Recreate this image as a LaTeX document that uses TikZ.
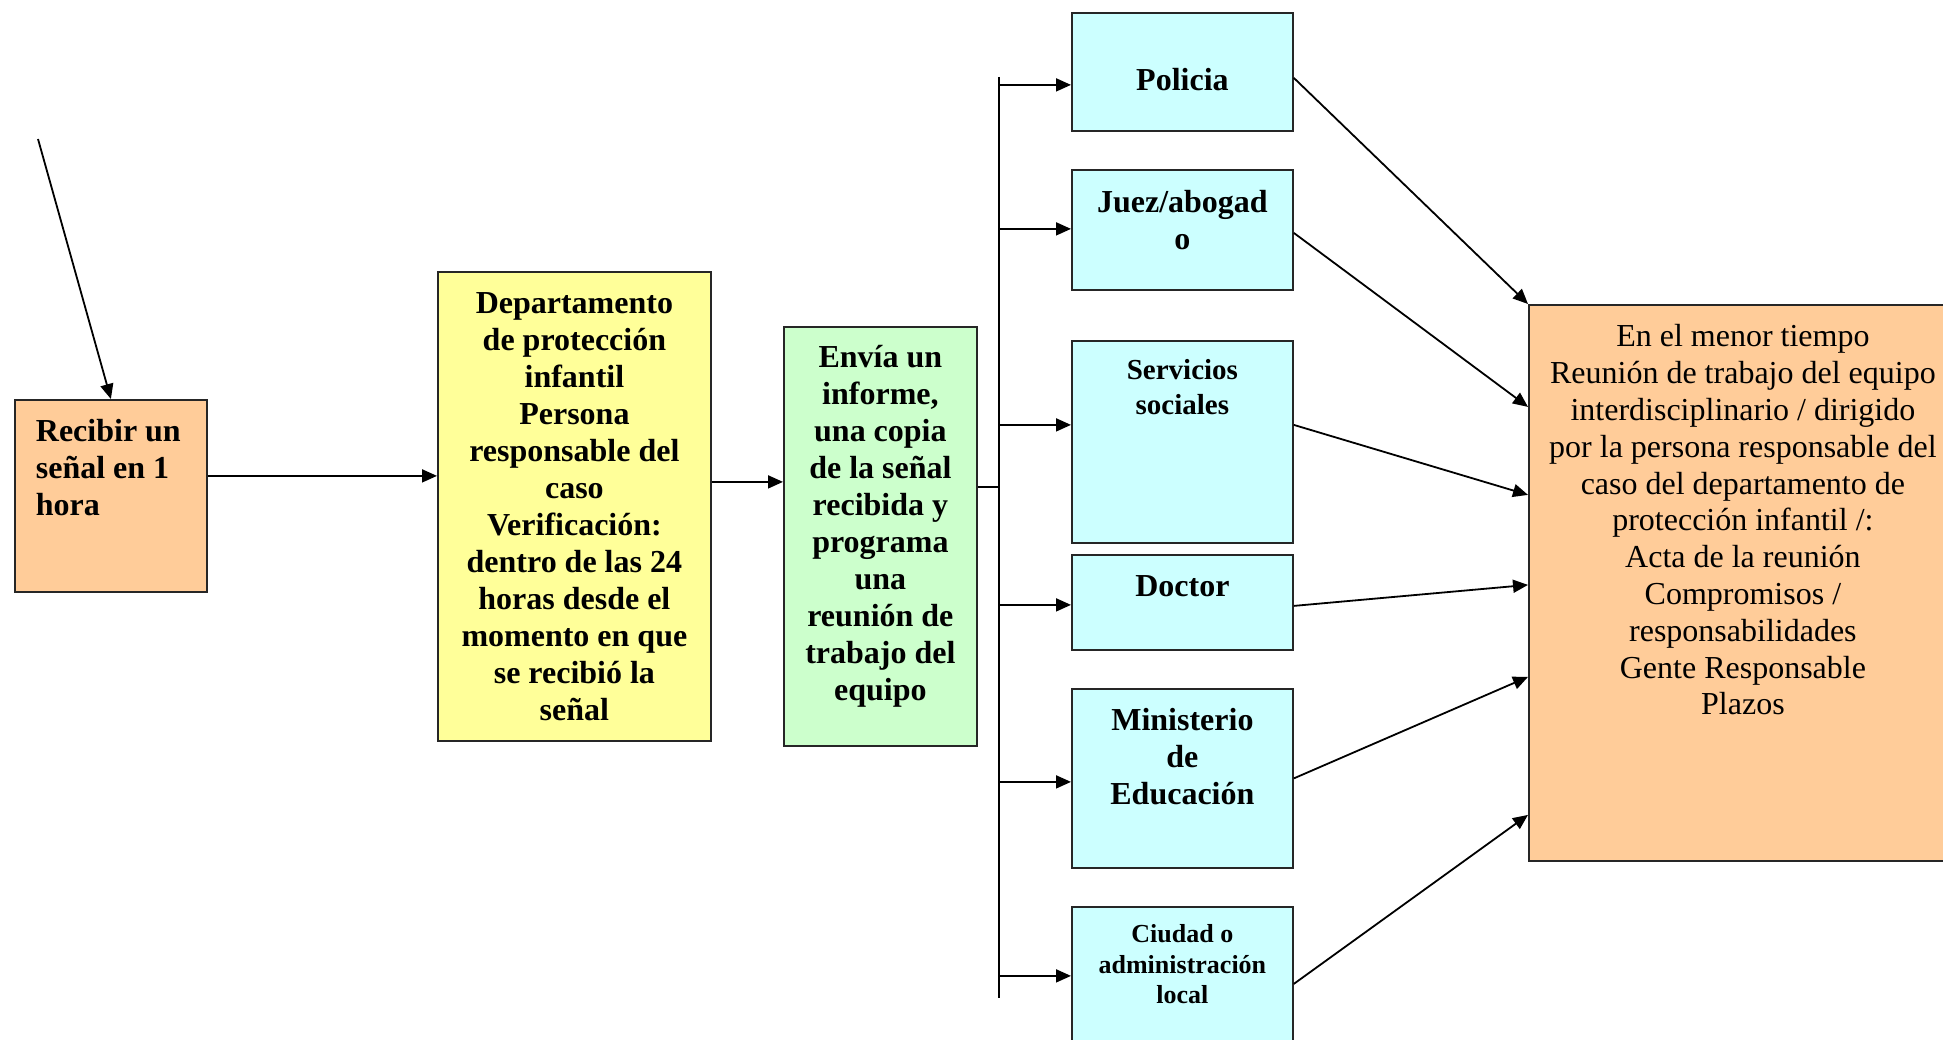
\documentclass[tikz,border=0pt]{standalone}
\usepackage{fontspec}
\setmainfont{Liberation Serif}
\usetikzlibrary{arrows.meta}
\definecolor{cOrange}{HTML}{FFCC99}
\definecolor{cYellow}{HTML}{FFFF99}
\definecolor{cGreen}{HTML}{CCFFCC}
\definecolor{cCyan}{HTML}{CCFFFF}
\newcommand\boxtxt[5]{\parbox[t][#2pt][t]{#1pt}{#3\rule{0pt}{#4pt}\ignorespaces#5}}
\newcommand\bigbold{\fontsize{32}{37}\selectfont\bfseries\centering}
\tikzset{
  box/.style={draw=black!85, line width=1.8pt, inner sep=0pt, anchor=north west},
  arr/.style={line width=1.8pt, -{Triangle[length=15pt,width=13pt]}},
  ln/.style={line width=1.8pt},
}
\begin{document}
\begin{tikzpicture}[x=1pt,y=-1pt]
\useasboundingbox (0,0) rectangle (1943,1040);
\clip (0,0) rectangle (1943,1040);

% boxes
\node[box, fill=cOrange] (rec) at (14,399)
  {\boxtxt{192}{192}{\fontsize{32}{37}\selectfont\bfseries\raggedright\leftskip=21pt}{42}{Recibir un\\señal en 1\\hora}};
\node[box, fill=cYellow] (yel) at (437,271)
  {\boxtxt{273}{469}{\bigbold}{42}{Departamento\\de protección\\infantil\\Persona\\responsable del\\caso\\Verificación:\\dentro de las 24\\horas desde el\\momento en que\\se recibió la\\señal}};
\node[box, fill=cGreen] (grn) at (783,326)
  {\boxtxt{193}{419}{\bigbold}{41}{Envía un\\informe,\\una copia\\de la señal\\recibida y\\programa\\una\\reunión de\\trabajo del\\equipo}};

\node[box, fill=cCyan] (pol) at (1071,12)
  {\boxtxt{221}{118}{\bigbold}{78}{Policia}};
\node[box, fill=cCyan] (jue) at (1071,169)
  {\boxtxt{221}{120}{\bigbold}{43}{Juez/abogad\\o}};
\node[box, fill=cCyan] (ser) at (1071,340)
  {\boxtxt{221}{202}{\fontsize{29}{34.7}\selectfont\bfseries\centering}{39}{Servicios\\sociales}};
\node[box, fill=cCyan] (doc) at (1071,554)
  {\boxtxt{221}{95}{\bigbold}{42}{Doctor}};
\node[box, fill=cCyan] (min) at (1071,688)
  {\boxtxt{221}{179}{\bigbold}{42}{Ministerio\\de\\Educación}};
\node[box, fill=cCyan] (ciu) at (1071,906)
  {\boxtxt{221}{154}{\fontsize{26}{30.4}\selectfont\bfseries\centering}{36}{Ciudad o\\administración\\local}};

\node[box, fill=cOrange] (ora) at (1528,304)
  {\boxtxt{428}{556}{\fontsize{32}{36.8}\selectfont\centering}{42}{En el menor tiempo\\Reunión de trabajo del equipo\\interdisciplinario / dirigido\\por la persona responsable del\\caso del departamento de\\protección infantil /:\\Acta de la reunión\\Compromisos /\\responsabilidades\\Gente Responsable\\Plazos}};

% incoming arrow
\coordinate (src) at (38,139);
\draw[arr] (src) -- (rec.north);

% main flow
\draw[arr] ([yshift=20pt]rec.east) coordinate (r1) -- (r1 -| yel.west);
\draw[arr] ([yshift=24.5pt]yel.east) coordinate (y1) -- (y1 -| grn.west);

% bus
\coordinate (bt) at (999,77);
\coordinate (bb) at (999,998);
\draw[ln] (bt) -- (bb);
\draw[ln] ([yshift=49.5pt]grn.east) coordinate (g1) -- (g1 -| bt);

% bus to agencies
\path ([yshift=-13pt]pol.west) coordinate (pw);
\draw[arr] (pw -| bt) -- (pw);
\path ([yshift=1pt]jue.west) coordinate (jw);
\draw[arr] (jw -| bt) -- (jw);
\path ([yshift=17pt]ser.west) coordinate (sw);
\draw[arr] (sw -| bt) -- (sw);
\path ([yshift=-2.5pt]doc.west) coordinate (dw);
\draw[arr] (dw -| bt) -- (dw);
\path ([yshift=-3.5pt]min.west) coordinate (mw);
\draw[arr] (mw -| bt) -- (mw);
\path ([yshift=8pt]ciu.west) coordinate (cw);
\draw[arr] (cw -| bt) -- (cw);

% agencies to meeting
\draw[arr] ([yshift=-6pt]pol.east) -- (ora.north west);
\draw[arr] ([yshift=-3pt]jue.east) -- ([yshift=176pt]ora.west);
\draw[arr] ([yshift=17pt]ser.east) -- ([yshift=88pt]ora.west);
\draw[arr] ([yshift=-3.5pt]doc.east) -- ([yshift=-2pt]ora.west);
\draw[arr] (min.east) -- ([yshift=-94pt]ora.west);
\draw[arr] (ciu.east) -- ([yshift=-232pt]ora.west);
\end{tikzpicture}
\end{document}
